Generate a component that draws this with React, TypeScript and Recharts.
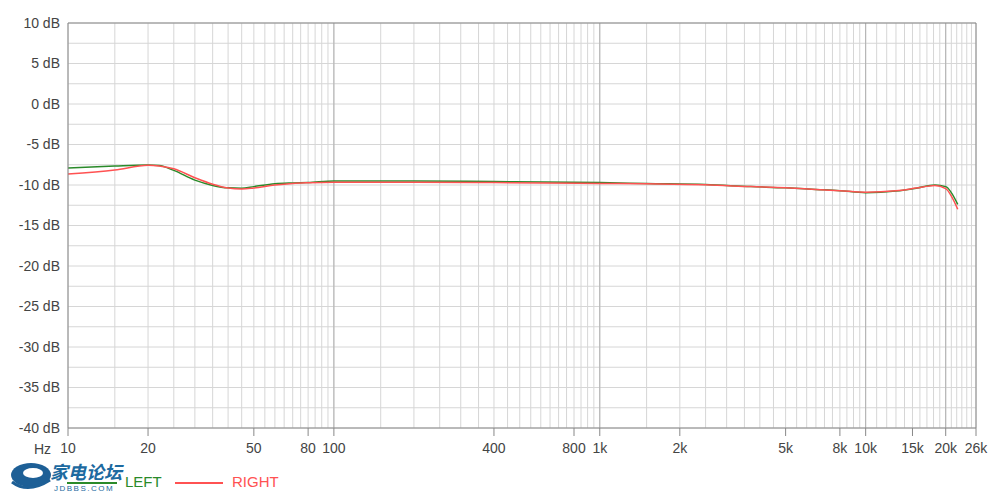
import { LineChart, Line, XAxis, YAxis, CartesianGrid, ReferenceLine } from 'recharts'

// frequency points (Hz)
const freqs = [10, 15, 20, 22, 25, 30, 35, 40, 45, 50, 60, 70, 80, 100, 200, 400, 1000, 1500, 2500, 3700, 5000, 6500, 8000, 10000, 13000, 15500, 18200, 20000, 22200]
const leftDb = [-7.9, -7.65, -7.53, -7.6, -8.2, -9.4, -10.05, -10.35, -10.4, -10.2, -9.85, -9.75, -9.7, -9.5, -9.5, -9.58, -9.7, -9.82, -9.95, -10.2, -10.35, -10.55, -10.7, -10.95, -10.75, -10.4, -10.0, -10.2, -12.4]
const rightDb = [-8.65, -8.15, -7.57, -7.65, -8.0, -9.1, -9.9, -10.37, -10.5, -10.37, -10.0, -9.8, -9.72, -9.65, -9.65, -9.7, -9.8, -9.86, -9.98, -10.2, -10.35, -10.55, -10.7, -10.9, -10.72, -10.38, -10.05, -10.45, -13.0]

const xTicks = [10, 20, 50, 80, 100, 400, 800, 1000, 2000, 5000, 8000, 10000, 15000, 20000, 26000]
const yTicks = [-40, -35, -30, -25, -20, -15, -10, -5, 0, 5, 10]
const majorX = [100, 1000, 10000, 20000]

// grid: 5 Hz steps per decade unit, 1k steps above 10k
const gridX: number[] = []
for (let f = 10; f <= 100; f += 5) gridX.push(f)
for (let f = 150; f <= 1000; f += 50) gridX.push(f)
for (let f = 1500; f <= 10000; f += 500) gridX.push(f)
for (let f = 11000; f <= 26000; f += 1000) gridX.push(f)
const gridY: number[] = []
for (let v = -40; v <= 10; v += 2.5) gridY.push(v)

const data = freqs.map((f, i) => ({ f, left: leftDb[i], right: rightDb[i] }))

const GREEN = '#2a8a2a'
const RED = '#ff5252'
const FONT = '"Liberation Sans", Arial, sans-serif'

const fmtHz = (v: number) => (v >= 1000 ? `${v / 1000}k` : `${v}`)

export default function App() {
  return (
    <div style={{ position: 'absolute', left: 0, top: 0, width: 1000, height: 500, fontFamily: FONT, background: '#fff' }}>
      <LineChart width={1000} height={500} data={data} margin={{ top: 23, right: 24, bottom: 42, left: 0 }}>
        <CartesianGrid stroke="#d6d6d6" horizontalValues={gridY} verticalValues={gridX} />
        {majorX.map((v) => (
          <ReferenceLine key={v} x={v} stroke="#b0b0b0" />
        ))}
        <ReferenceLine y={10} stroke="#888" />
        <ReferenceLine x={26000} stroke="#888" />
        <XAxis
          dataKey="f"
          type="number"
          scale="log"
          domain={[10, 26000]}
          ticks={xTicks}
          tickFormatter={fmtHz}
          allowDataOverflow
          height={30}
          tickSize={8}
          tickMargin={7}
          stroke="#888"
          tick={{ fill: '#444', fontSize: 14, fontFamily: FONT }}
          interval={0}
        />
        <YAxis
          type="number"
          domain={[-40, 10]}
          ticks={yTicks}
          width={68}
          tickLine={false}
          stroke="#888"
          tickFormatter={(v: number) => `${v} dB`}
          tick={{ fill: '#444', fontSize: 14, fontFamily: FONT }}
          interval={0}
        />
        <Line type="monotone" dataKey="left" stroke={GREEN} strokeWidth={1.5} dot={false} isAnimationActive={false} />
        <Line type="monotone" dataKey="right" stroke={RED} strokeWidth={1.5} dot={false} isAnimationActive={false} />
      </LineChart>

      <span style={{ position: 'absolute', left: 34, top: 441, fontSize: 14, color: '#444' }}>Hz</span>

      {/* watermark */}
      <svg style={{ position: 'absolute', left: 8, top: 460 }} width={46} height={32}>
        <ellipse cx={23} cy={15} rx={20} ry={12} fill="#1d5f96" />
        <ellipse cx={25} cy={13} rx={10} ry={5} fill="#fff" />
        <path d="M4 22 Q20 34 42 20" stroke="#1d5f96" strokeWidth={3} fill="none" />
      </svg>
      <span style={{ position: 'absolute', left: 50, top: 461, fontSize: 18, fontWeight: 'bold', fontStyle: 'italic', color: '#1d6aa0', fontFamily: '"Noto Sans CJK SC", sans-serif', lineHeight: '21px', whiteSpace: 'nowrap' }}>
        家电论坛
      </span>
      <span style={{ position: 'absolute', left: 54, top: 484, fontSize: 8, letterSpacing: 1.5, color: '#1d6aa0', lineHeight: '9px', whiteSpace: 'nowrap' }}>JDBBS.COM</span>

      {/* legend */}
      <div style={{ position: 'absolute', left: 67, top: 482, width: 50, height: 2, background: GREEN }} />
      <span style={{ position: 'absolute', left: 125, top: 473, fontSize: 15, color: GREEN, lineHeight: '18px' }}>LEFT</span>
      <div style={{ position: 'absolute', left: 175, top: 482, width: 48, height: 2, background: RED }} />
      <span style={{ position: 'absolute', left: 232, top: 473, fontSize: 15, color: RED, lineHeight: '18px' }}>RIGHT</span>
    </div>
  )
}
